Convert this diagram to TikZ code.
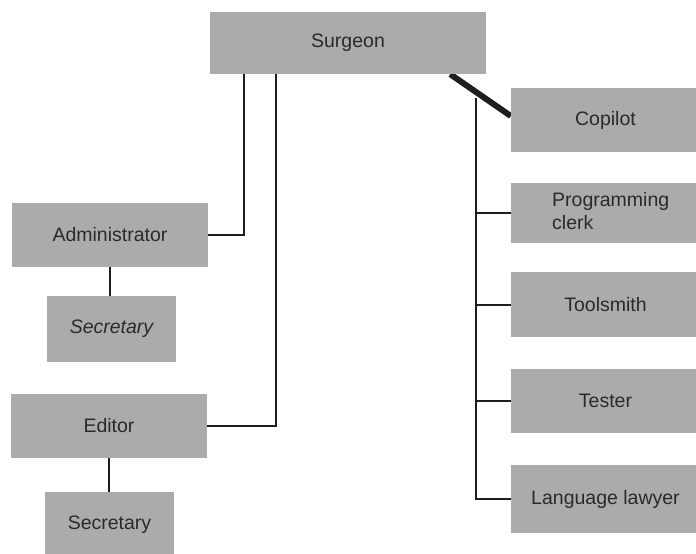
\documentclass[tikz,border=0pt]{standalone}
\usepackage{fontspec}
\setmainfont{Liberation Sans}
\usetikzlibrary{backgrounds}
\definecolor{boxgray}{HTML}{ABABAB}
\definecolor{ink}{HTML}{2A2A2A}
\definecolor{wire}{HTML}{1E1E1E}
\begin{document}
\begin{tikzpicture}[x=1pt,y=-1pt,
  role/.style={fill=boxgray,draw=none,text=ink,inner sep=0pt,
    font=\fontsize{19.5}{23}\selectfont},
  link/.style={draw=wire,line width=2pt},
  bar/.style={draw=wire,line width=6pt}]
\useasboundingbox (0,0) rectangle (696,554);

% the surgeon at the top
\node[role,minimum width=276pt,minimum height=62pt] (surg) at (348,43) {Surgeon};

% left column: administrative support
\node[role,minimum width=196pt,minimum height=64pt] (admin) at (110,235) {Administrator};
\node[role,minimum width=129pt,minimum height=66pt] (sec1) at (111.5,329) {\itshape Secretary};
\node[role,minimum width=196pt,minimum height=64pt] (editor) at (109,426) {Editor};
\node[role,minimum width=129pt,minimum height=66pt] (sec2) at (109.5,525) {Secretary};

% right column: technical staff
\node[role,minimum width=189pt,minimum height=64pt] (copilot) at (605.5,120) {Copilot};
\node[role,minimum width=189pt,minimum height=60pt] (clerk) at (605.5,213) {};
\node[text=ink,anchor=west,align=left,inner sep=0pt,font=\fontsize{19.5}{23}\selectfont]
  (clerktext) at (552,211.5) {Programming\\clerk};
\node[role,minimum width=189pt,minimum height=65pt] (tools) at (605.5,304.5) {Toolsmith};
\node[role,minimum width=189pt,minimum height=64pt] (tester) at (605.5,401) {Tester};
\node[role,minimum width=189pt,minimum height=68pt] (lawyer) at (605.5,499) {Language lawyer};

% spine joining the technical staff
\coordinate (spinetop) at (476,98);
\coordinate (admincol) at (244,0);
\coordinate (editcol) at (276,0);

\begin{scope}[on background layer]
  % heavy bar from surgeon to copilot
  \draw[bar] ([xshift=-36pt]surg.south east) -- ([yshift=4pt]copilot.west);
  % surgeon to administrator and editor
  \draw[link] (admin.east) -- (admin.east -| admincol) -- (surg.south -| admincol);
  \draw[link] (editor.east) -- (editor.east -| editcol) -- (surg.south -| editcol);
  % secretaries
  \draw[link] (admin.south) -- (admin.south |- sec1.north);
  \draw[link] (editor.south) -- (editor.south |- sec2.north);
  % spine and branches
  \draw[link] (spinetop) -- (spinetop |- lawyer.west) -- (lawyer.west);
  \draw[link] (spinetop |- clerk.west) -- (clerk.west);
  \draw[link] (spinetop |- tools.west) -- (tools.west);
  \draw[link] (spinetop |- tester.west) -- (tester.west);
\end{scope}
\end{tikzpicture}
\end{document}
